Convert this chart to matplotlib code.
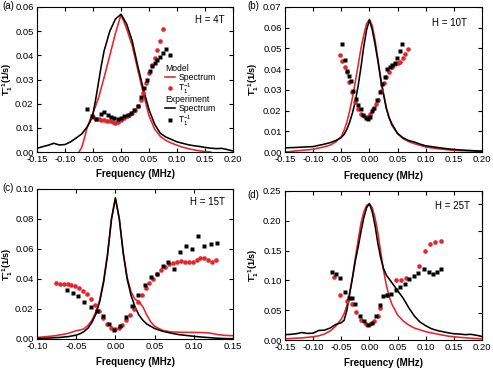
import matplotlib
matplotlib.use('Agg')
import matplotlib.pyplot as plt
from matplotlib.ticker import FormatStrFormatter, MultipleLocator
from matplotlib.lines import Line2D

plt.rcParams['font.family'] = ['Liberation Sans', 'DejaVu Sans']
plt.rcParams['mathtext.fontset'] = 'custom'
plt.rcParams['mathtext.rm'] = 'Liberation Sans'
plt.rcParams['mathtext.it'] = 'Liberation Sans'
plt.rcParams['mathtext.bf'] = 'Liberation Sans:bold'
plt.rcParams['axes.unicode_minus'] = False

# ---------------- data : panel (a) H = 4T ----------------
a_model_spec_x = [-0.075, -0.07, -0.065, -0.06, -0.055, -0.05, -0.04, -0.03, -0.02, -0.01, -0.005, 0.0,
                  0.005, 0.01, 0.02, 0.03, 0.04, 0.05, 0.06, 0.07, 0.08, 0.09, 0.10, 0.11, 0.12, 0.13,
                  0.14, 0.15, 0.16]
a_model_spec_y = [0.0, 0.002, 0.006, 0.0105, 0.0135, 0.016, 0.0225, 0.031, 0.040, 0.049, 0.053, 0.0568,
                  0.054, 0.051, 0.044, 0.034, 0.024, 0.0150, 0.0095, 0.0065, 0.0048, 0.0037, 0.0028,
                  0.0020, 0.0014, 0.0009, 0.0005, 0.0002, 0.0]
a_exp_spec_x = [-0.15, -0.14, -0.13, -0.12, -0.11, -0.10, -0.09, -0.08, -0.07, -0.06, -0.055, -0.05,
                -0.045, -0.04, -0.035, -0.03, -0.02, -0.01, 0.0, 0.01, 0.02, 0.03, 0.04, 0.05, 0.055,
                0.06, 0.07, 0.08, 0.09, 0.10, 0.11, 0.12, 0.13, 0.14, 0.15, 0.16, 0.17, 0.18, 0.19, 0.20]
a_exp_spec_y = [0.0015, 0.0022, 0.0028, 0.0036, 0.0029, 0.0031, 0.0042, 0.0058, 0.0075, 0.0105, 0.0125,
                0.016, 0.022, 0.029, 0.036, 0.042, 0.050, 0.055, 0.057, 0.053, 0.046, 0.0355, 0.026,
                0.0175, 0.0145, 0.0115, 0.0078, 0.0062, 0.0052, 0.0042, 0.0036, 0.0030, 0.0026,
                0.0023, 0.0019, 0.0016, 0.0014, 0.0015, 0.0010, 0.0004]
a_model_t1_x = [-0.050, -0.045, -0.040, -0.035, -0.030, -0.025, -0.020, -0.015, -0.010, -0.005, 0.000,
                0.005, 0.010, 0.015, 0.020, 0.025, 0.030, 0.035, 0.040, 0.045, 0.050, 0.055, 0.060,
                0.065, 0.070, 0.075]
a_model_t1_y = [0.0145, 0.0138, 0.0135, 0.0133, 0.0132, 0.0130, 0.0127, 0.0124, 0.0121, 0.0124, 0.0132,
                0.0140, 0.0147, 0.0155, 0.0163, 0.0175, 0.0190, 0.0215, 0.0245, 0.0285, 0.0325,
                0.0360, 0.0388, 0.0420, 0.0460, 0.0510]
a_exp_t1_x = [-0.060, -0.051, -0.045, -0.036, -0.030, -0.024, -0.018, -0.012, -0.006, 0.000, 0.006,
              0.012, 0.018, 0.024, 0.030, 0.036, 0.041, 0.046, 0.051, 0.055, 0.060, 0.065, 0.070,
              0.075, 0.081, 0.087]
a_exp_t1_y = [0.0178, 0.0151, 0.0138, 0.0158, 0.0165, 0.0155, 0.0145, 0.0141, 0.0138, 0.0142, 0.0147,
              0.0154, 0.0162, 0.0172, 0.0189, 0.0226, 0.0266, 0.0300, 0.0334, 0.0354, 0.0368, 0.0381,
              0.0395, 0.0411, 0.0426, 0.0401]

# ---------------- data : panel (b) H = 10T ----------------
b_model_spec_x = [-0.15, -0.12, -0.10, -0.08, -0.07, -0.06, -0.05, -0.045, -0.04, -0.035, -0.03, -0.025,
                  -0.02, -0.015, -0.01, -0.005, 0.0, 0.005, 0.01, 0.015, 0.02, 0.025, 0.03, 0.035, 0.04,
                  0.05, 0.06, 0.07, 0.08, 0.10, 0.12, 0.15, 0.20]
b_model_spec_y = [0.0, 0.0008, 0.0013, 0.0025, 0.0033, 0.0048, 0.0075, 0.0105, 0.0145, 0.020, 0.0265,
                  0.034, 0.042, 0.050, 0.0565, 0.062, 0.064, 0.061, 0.054, 0.0450, 0.0360, 0.0280,
                  0.0215, 0.0165, 0.0128, 0.0088, 0.0064, 0.0050, 0.0040, 0.0024, 0.0016, 0.0008, 0.0003]
b_exp_spec_x = [-0.15, -0.13, -0.11, -0.10, -0.09, -0.08, -0.07, -0.06, -0.05, -0.045, -0.04, -0.035,
                -0.03, -0.025, -0.02, -0.015, -0.01, -0.005, 0.0, 0.005, 0.01, 0.015, 0.02, 0.025, 0.03,
                0.035, 0.04, 0.05, 0.06, 0.07, 0.08, 0.09, 0.10, 0.12, 0.14, 0.16, 0.18, 0.20]
b_exp_spec_y = [0.0020, 0.0022, 0.0025, 0.0026, 0.0032, 0.0038, 0.0045, 0.0055, 0.0070, 0.0085, 0.0110,
                0.0145, 0.0190, 0.0245, 0.0320, 0.0410, 0.0510, 0.0590, 0.0637, 0.0590, 0.0520,
                0.0440, 0.0350, 0.0280, 0.0210, 0.0165, 0.0135, 0.0090, 0.0068, 0.0055, 0.0048,
                0.0038, 0.0030, 0.0022, 0.0015, 0.0010, 0.0007, 0.0004]
b_model_t1_x = [-0.052, -0.048, -0.044, -0.040, -0.036, -0.031, -0.026, -0.021, -0.015, -0.009, -0.005,
                0.001, 0.006, 0.011, 0.016, 0.021, 0.026, 0.030, 0.035, 0.040, 0.045, 0.051, 0.055,
                0.059, 0.063, 0.068]
b_model_t1_y = [0.047, 0.044, 0.0411, 0.0384, 0.0336, 0.0288, 0.024, 0.0208, 0.0184, 0.0176, 0.0171,
                0.0184, 0.0208, 0.0232, 0.0253, 0.0296, 0.0331, 0.036, 0.0387, 0.0408, 0.0424, 0.0429,
                0.0435, 0.0456, 0.0472, 0.0499]
b_exp_t1_x = [-0.048, -0.044, -0.040, -0.037, -0.033, -0.030, -0.024, -0.020, -0.015, -0.011, -0.006,
              -0.003, 0.001, 0.005, 0.009, 0.014, 0.018, 0.022, 0.027, 0.031, 0.036, 0.040, 0.045,
              0.049, 0.054, 0.058]
b_exp_t1_y = [0.052, 0.0445, 0.039, 0.0365, 0.0344, 0.0296, 0.0256, 0.0229, 0.0208, 0.0179, 0.0165,
              0.016, 0.0171, 0.0197, 0.0213, 0.0253, 0.0288, 0.0328, 0.0363, 0.040, 0.041, 0.042,
              0.0432, 0.0456, 0.0488, 0.052]

# ---------------- data : panel (c) H = 15T ----------------
c_model_spec_x = [-0.10, -0.09, -0.08, -0.07, -0.06, -0.05, -0.045, -0.04, -0.035, -0.03, -0.025, -0.02,
                  -0.015, -0.01, -0.005, 0.0, 0.005, 0.01, 0.015, 0.02, 0.025, 0.03, 0.035, 0.04, 0.045,
                  0.05, 0.06, 0.07, 0.08, 0.10, 0.11, 0.12, 0.13, 0.14, 0.15]
c_model_spec_y = [0.0010, 0.0015, 0.0020, 0.0028, 0.0038, 0.0055, 0.0060, 0.0068, 0.0090, 0.0125,
                  0.0180, 0.0260, 0.0390, 0.0570, 0.0800, 0.0935, 0.0800, 0.0580, 0.0410, 0.0315,
                  0.0265, 0.0250, 0.0215, 0.0160, 0.0115, 0.0085, 0.0058, 0.0048, 0.0045, 0.0044,
                  0.0043, 0.0040, 0.0030, 0.0024, 0.0022]
c_exp_spec_x = [-0.10, -0.09, -0.08, -0.07, -0.06, -0.05, -0.045, -0.04, -0.035, -0.03, -0.025, -0.02,
                -0.015, -0.01, -0.005, 0.0, 0.005, 0.01, 0.015, 0.02, 0.025, 0.03, 0.035, 0.04, 0.05,
                0.06, 0.07, 0.08, 0.09, 0.10, 0.11, 0.12, 0.13, 0.14, 0.15]
c_exp_spec_y = [0.0003, 0.0005, 0.0008, 0.0011, 0.0016, 0.0026, 0.0035, 0.0050, 0.0072, 0.0110, 0.0165,
                0.0250, 0.0380, 0.0560, 0.0800, 0.0942, 0.0800, 0.0570, 0.0400, 0.0290, 0.0215,
                0.0160, 0.0125, 0.0100, 0.0070, 0.0052, 0.0040, 0.0030, 0.0024, 0.0018, 0.0013,
                0.0009, 0.0005, 0.0003, 0.0002]
c_model_t1_x = [-0.0756, -0.0706, -0.066, -0.061, -0.056, -0.051, -0.046, -0.041, -0.036, -0.031,
                -0.026, -0.0206, -0.0155, -0.0105, -0.0055, -0.0008, 0.004, 0.009, 0.014, 0.019,
                0.024, 0.0286, 0.0336, 0.0387, 0.0433, 0.0483, 0.053, 0.0588, 0.0639, 0.0685, 0.0735,
                0.0786, 0.084, 0.089, 0.0937, 0.0987, 0.1038, 0.108, 0.113, 0.118, 0.123, 0.128]
c_model_t1_y = [0.0376, 0.0367, 0.0367, 0.0367, 0.036, 0.0353, 0.0342, 0.032, 0.0298, 0.0264, 0.0227,
                0.0187, 0.0142, 0.0098, 0.0076, 0.0064, 0.0071, 0.0093, 0.0127, 0.016, 0.020, 0.0244,
                0.0293, 0.0338, 0.0371, 0.040, 0.0431, 0.046, 0.0482, 0.0498, 0.0509, 0.0516, 0.052,
                0.0516, 0.0511, 0.0516, 0.0527, 0.0538, 0.0538, 0.0527, 0.0516, 0.0527]
c_exp_t1_x = [-0.0622, -0.0546, -0.0471, -0.0395, -0.0315, -0.0240, -0.0164, -0.0088, -0.0013, 0.0063,
              0.0139, 0.0214, 0.0294, 0.0374, 0.045, 0.0525, 0.0601, 0.0676, 0.0752, 0.0828, 0.0903,
              0.0979, 0.1059, 0.1134, 0.1214, 0.129]
c_exp_t1_y = [0.0324, 0.0304, 0.0287, 0.0244, 0.0211, 0.0187, 0.0153, 0.0098, 0.006, 0.0087, 0.0144,
              0.022, 0.0293, 0.0358, 0.0413, 0.0431, 0.0489, 0.0513, 0.0464, 0.0578, 0.062, 0.060,
              0.0687, 0.062, 0.0631, 0.0642]

# ---------------- data : panel (d) H = 25T ----------------
d_model_spec_x = [-0.15, -0.12, -0.10, -0.09, -0.08, -0.07, -0.06, -0.05, -0.045, -0.04, -0.035, -0.03,
                  -0.025, -0.02, -0.015, -0.01, -0.005, 0.0, 0.005, 0.01, 0.015, 0.02, 0.025, 0.03, 0.035,
                  0.04, 0.05, 0.06, 0.07, 0.08, 0.10, 0.12, 0.14, 0.16, 0.18, 0.20]
d_model_spec_y = [0.0020, 0.0035, 0.0055, 0.0070, 0.0100, 0.0150, 0.0230, 0.0350, 0.0440, 0.0580,
                  0.0800, 0.1060, 0.1380, 0.1680, 0.1960, 0.2150, 0.2260, 0.2280, 0.2220, 0.2050,
                  0.1800, 0.1480, 0.1170, 0.0920, 0.0730, 0.0600, 0.0420, 0.0320, 0.0250, 0.0200,
                  0.0140, 0.0100, 0.0065, 0.0045, 0.0030, 0.0020]
d_exp_spec_x = [-0.15, -0.14, -0.13, -0.12, -0.11, -0.10, -0.09, -0.08, -0.07, -0.06, -0.05, -0.045,
                -0.04, -0.035, -0.03, -0.025, -0.02, -0.015, -0.01, -0.005, 0.0, 0.005, 0.01, 0.015,
                0.02, 0.025, 0.03, 0.04, 0.05, 0.06, 0.07, 0.08, 0.09, 0.10, 0.11, 0.12, 0.13, 0.14,
                0.15, 0.16, 0.17, 0.18, 0.19, 0.20]
d_exp_spec_y = [0.0090, 0.0095, 0.0105, 0.0125, 0.0110, 0.0115, 0.0160, 0.0165, 0.0200, 0.0260, 0.0290,
                0.0330, 0.0500, 0.0780, 0.1050, 0.1330, 0.1560, 0.1820, 0.2050, 0.2220, 0.2290,
                0.2150, 0.1920, 0.1620, 0.1380, 0.1200, 0.1090, 0.0960, 0.0830, 0.0700, 0.0540,
                0.0400, 0.0300, 0.0240, 0.0190, 0.0160, 0.0140, 0.0120, 0.0105, 0.0100, 0.0090,
                0.0095, 0.0080, 0.0060]
d_model_t1_x = [-0.0633, -0.0527, -0.0396, -0.0308, -0.0231, -0.0148, -0.0059, 0.0018, 0.0077, 0.0148,
                0.0195, 0.0314, 0.0473, 0.0556, 0.0651, 0.0876, 0.0982, 0.1083, 0.1172, 0.1278]
d_model_t1_y = [0.1062, 0.0757, 0.0655, 0.061, 0.0469, 0.0328, 0.0271, 0.0271, 0.0316, 0.0401, 0.0542,
                0.0757, 0.100, 0.1011, 0.104, 0.1243, 0.1492, 0.1616, 0.1638, 0.1655]
d_exp_t1_x = [-0.0663, -0.0592, -0.0521, -0.0438, -0.0367, -0.0308, -0.0249, -0.0166, -0.0089, -0.0018,
              0.0047, 0.0118, 0.0183, 0.0243, 0.0314, 0.0391, 0.0467, 0.0550, 0.0627, 0.0704, 0.0787,
              0.0864, 0.0964, 0.1053, 0.113, 0.1207, 0.1278]
d_exp_t1_y = [0.1147, 0.1102, 0.1034, 0.0808, 0.0706, 0.0706, 0.061, 0.0407, 0.0311, 0.0254, 0.0282,
              0.0407, 0.0593, 0.0734, 0.0763, 0.0774, 0.0831, 0.0887, 0.0944, 0.1017, 0.1073, 0.113,
              0.1186, 0.1141, 0.1113, 0.1141, 0.1186]
d_right_axis_unit = 0.0457   # spacing of the unlabeled right-hand (spectrum) ticks in panel (d)

field_labels = ['H = 4T', 'H = 10T', 'H = 15T', 'H = 25T']
panel_letters = ['(a)', '(b)', '(c)', '(d)']

# ---------------- styling ----------------
RED = '#e8232b'
BLACK = '#000000'
W, H = 493, 370

fig = plt.figure(figsize=(W / 100, H / 100), dpi=100)


def box(l, r, t, b):
    return [l / W, (H - b) / H, (r - l) / W, (b - t) / H]


def style(ax, xlim, xstep, ylim, ystep, right=True):
    ax.set_xlim(*xlim)
    ax.set_ylim(*ylim)
    ax.xaxis.set_major_locator(MultipleLocator(xstep))
    ax.yaxis.set_major_locator(MultipleLocator(ystep))
    ax.xaxis.set_major_formatter(FormatStrFormatter('%.2f'))
    ax.yaxis.set_major_formatter(FormatStrFormatter('%.2f'))
    ax.tick_params(direction='in', top=True, right=right, length=3, width=0.8,
                   labelsize=6.8, pad=2.5, colors='black')
    for s in ax.spines.values():
        s.set_linewidth(0.8)
    ax.set_xlabel('Frequency (MHz)', fontweight='bold', fontsize=7)
    ax.set_ylabel(r'$\mathbf{T_1^{-1}}$(1/s)', fontweight='bold', fontsize=6.6)


def draw(ax, ms_x, ms_y, es_x, es_y, mt_x, mt_y, et_x, et_y):
    ax.plot(ms_x, ms_y, color=RED, lw=1.15, zorder=2)
    ax.plot(es_x, es_y, color=BLACK, lw=1.15, zorder=3)
    ax.plot(mt_x, mt_y, ls='none', marker='o', ms=3.3, mec='none', color=RED, zorder=4)
    ax.plot(et_x, et_y, ls='none', marker='s', ms=3.2, mec='none', color=BLACK, zorder=5)


axa = fig.add_axes(box(37, 233, 7, 152))
axb = fig.add_axes(box(285, 482, 7, 152))
axc = fig.add_axes(box(37, 233, 189, 339))
axd = fig.add_axes(box(285, 482, 191, 340))

draw(axa, a_model_spec_x, a_model_spec_y, a_exp_spec_x, a_exp_spec_y,
     a_model_t1_x, a_model_t1_y, a_exp_t1_x, a_exp_t1_y)
draw(axb, b_model_spec_x, b_model_spec_y, b_exp_spec_x, b_exp_spec_y,
     b_model_t1_x, b_model_t1_y, b_exp_t1_x, b_exp_t1_y)
draw(axc, c_model_spec_x, c_model_spec_y, c_exp_spec_x, c_exp_spec_y,
     c_model_t1_x, c_model_t1_y, c_exp_t1_x, c_exp_t1_y)
draw(axd, d_model_spec_x, d_model_spec_y, d_exp_spec_x, d_exp_spec_y,
     d_model_t1_x, d_model_t1_y, d_exp_t1_x, d_exp_t1_y)

style(axa, (-0.15, 0.20), 0.05, (0, 0.06), 0.01)
style(axb, (-0.15, 0.20), 0.05, (0, 0.07), 0.01)
style(axc, (-0.10, 0.15), 0.05, (0, 0.10), 0.02)
style(axd, (-0.15, 0.20), 0.05, (0, 0.25), 0.05, right=False)

sec = axd.secondary_yaxis('right', functions=(lambda y: y / d_right_axis_unit,
                                              lambda v: v * d_right_axis_unit))
sec.set_yticks([1, 2, 3, 4, 5])
sec.tick_params(direction='in', length=3, width=0.8, labelright=False)
sec.spines['right'].set_linewidth(0.8)

# label placement
axa.yaxis.set_label_coords(-0.114, 0.5)
axc.yaxis.set_label_coords(-0.114, 0.5)
axb.yaxis.set_label_coords(-0.124, 0.5)
axd.yaxis.set_label_coords(-0.124, 0.5)
axa.xaxis.set_label_coords(0.5, -0.118)
axb.xaxis.set_label_coords(0.5, -0.128)
axc.xaxis.set_label_coords(0.5, -0.118)
axd.xaxis.set_label_coords(0.5, -0.121)

for ax, lab, (tx, ty) in zip([axa, axb, axc, axd], field_labels,
                             [(0.959, 0.91), (0.924, 0.89), (0.959, 0.913), (0.94, 0.90)]):
    ax.text(tx, ty, lab, transform=ax.transAxes, ha='right', va='center', fontsize=7)

for lab, (px, py) in zip(panel_letters, [(2, 6), (247, 6), (2, 188), (247, 195)]):
    fig.text(px / W, 1 - py / H, lab, ha='left', va='center', fontsize=7)

# legend in panel (a)
t1_lab = r'T$_1^{-1}$'
leg_kw = dict(alignment='left', loc='upper left', frameon=False, fontsize=6.2, title_fontsize=6.2,
              handlelength=1.2, handletextpad=0.35, labelspacing=0.0, borderpad=0, borderaxespad=0)
leg1 = axa.legend(handles=[Line2D([], [], color=RED, lw=1.15),
                           Line2D([], [], color=RED, ls='none', marker='o', ms=3.3, mec='none')],
                  labels=['Spectrum', t1_lab], title='Model',
                  bbox_to_anchor=(0.653, 0.61), **leg_kw)
axa.add_artist(leg1)
axa.legend(handles=[Line2D([], [], color=BLACK, lw=1.15),
                    Line2D([], [], color=BLACK, ls='none', marker='s', ms=3.2, mec='none')],
           labels=['Spectrum', t1_lab], title='Experiment',
           bbox_to_anchor=(0.653, 0.39), **leg_kw)

fig.savefig('out.png', dpi=100)
